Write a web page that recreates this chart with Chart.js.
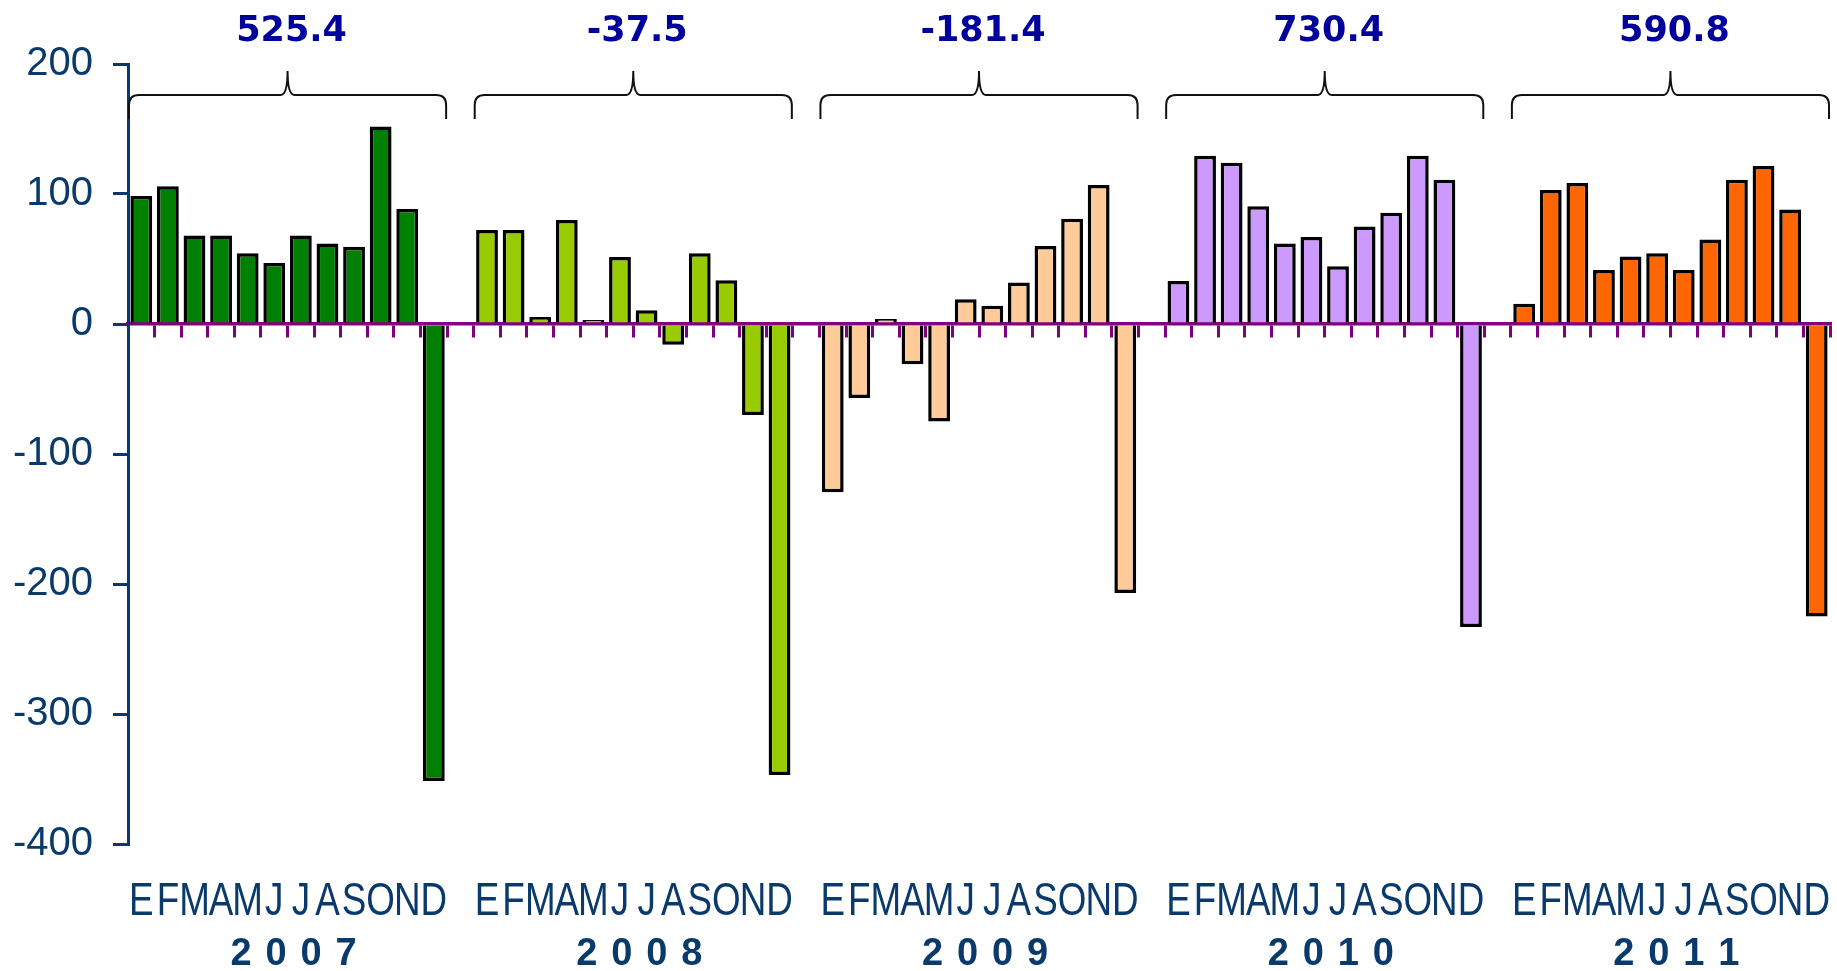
<!DOCTYPE html>
<html>
<head>
<meta charset="utf-8">
<style>
  body { margin: 0; background: #ffffff; }
  #chart { display: block; }
</style>
<script src="https://cdn.jsdelivr.net/npm/chart.js@4"></script>
</head>
<body>
<canvas id="chart" width="1837" height="971"></canvas>
<script>
"use strict";

// months (Spanish initials) and years
var months = ["E", "F", "M", "A", "M", "J", "J", "A", "S", "O", "N", "D"];
var years = ["2007", "2008", "2009", "2010", "2011"];
var totals = ["525.4", "-37.5", "-181.4", "730.4", "590.8"];

// monthly values
var v2007 = [98.5, 106, 68, 68, 54.5, 47, 68, 62, 59.5, 152, 88.5, -351.5];
var v2008 = [72.3, 72.3, 5.4, 80, 3, 51.5, 10.5, -16, 54.4, 33.6, -70, -347];
var v2009 = [-129.5, -57, 3.8, -31, -75, 19, 14, 32, 60, 81, 107, -207];
var v2010 = [33, 129.5, 124, 90.5, 62, 67, 44.5, 75, 85.5, 129.5, 111, -233];
var v2011 = [15.6, 103, 108.5, 41.5, 52, 54.5, 41.5, 65, 111, 121.5, 88, -225];

var yearColors = ["#008000", "#99CC00", "#FFCC99", "#CC99FF", "#FF6600"];
var yTicks = [200, 100, 0, -100, -200, -300, -400];

var NAVY = "#0A3A6B";
var PURPLE = "#800080";

// one category per month, one empty slot between years
var series = [v2007, v2008, v2009, v2010, v2011];
var labels = [];
var values = [];
var colors = [];
series.forEach(function (arr, g) {
  arr.forEach(function (v, i) {
    labels.push(months[i]);
    values.push(v);
    colors.push(yearColors[g]);
  });
  if (g < series.length - 1) {
    labels.push("");
    values.push(null);
    colors.push("#ffffff");
  }
});

function drawBrace(ctx, xl, xr, yEnd, yLine, yTip) {
  var xc = (xl + xr) / 2;
  var r = 10;
  ctx.beginPath();
  ctx.moveTo(xl, yEnd);
  ctx.lineTo(xl, yLine + r);
  ctx.quadraticCurveTo(xl, yLine, xl + r, yLine);
  ctx.lineTo(xc - 7, yLine);
  ctx.quadraticCurveTo(xc, yLine, xc, yTip);
  ctx.quadraticCurveTo(xc, yLine, xc + 7, yLine);
  ctx.lineTo(xr - r, yLine);
  ctx.quadraticCurveTo(xr, yLine, xr, yLine + r);
  ctx.lineTo(xr, yEnd);
  ctx.stroke();
}

var annotations = {
  id: "annotations",
  afterDraw: function (chart) {
    var ctx = chart.ctx;
    var x = chart.scales.x;
    var half = (x.getPixelForValue(1) - x.getPixelForValue(0)) / 2;

    ctx.save();
    years.forEach(function (yr, g) {
      var start = g * 13;
      var xl = x.getPixelForValue(start) - half + 1;
      var xr = x.getPixelForValue(start + 11) + half - 1;
      var xc = (xl + xr) / 2;

      // bracket and yearly total
      ctx.strokeStyle = "#111111";
      ctx.lineWidth = 2;
      drawBrace(ctx, xl, xr, 119, 95, 71);
      ctx.fillStyle = "#00009C";
      ctx.font = "bold 35px 'DejaVu Sans', Verdana, sans-serif";
      ctx.textAlign = "center";
      ctx.textBaseline = "middle";
      ctx.fillText(totals[g], xc + 4, 32);

      // month initials, slightly condensed
      ctx.fillStyle = NAVY;
      ctx.font = "46px 'Liberation Sans', Arial, sans-serif";
      for (var i = 0; i < 12; i++) {
        ctx.save();
        ctx.translate(x.getPixelForValue(start + i), 902);
        ctx.scale(0.8, 1);
        ctx.fillText(months[i], 0, 0);
        ctx.restore();
      }

      // year, spaced out
      ctx.font = "bold 38px 'Liberation Sans', Arial, sans-serif";
      var gap = 35;
      for (var k = 0; k < yr.length; k++) {
        ctx.fillText(yr[k], xc + 6 + (k - (yr.length - 1) / 2) * gap, 955);
      }
    });
    ctx.restore();
  },
};

new Chart(document.getElementById("chart"), {
  type: "bar",
  data: {
    labels: labels,
    datasets: [
      {
        data: values,
        backgroundColor: colors,
        borderColor: "#000000",
        borderWidth: 3.5,
        barPercentage: 0.82,
        categoryPercentage: 1,
      },
    ],
  },
  options: {
    responsive: false,
    animation: false,
    layout: { padding: { left: 0, right: 7, top: 64, bottom: 127 } },
    plugins: {
      legend: { display: false },
      tooltip: { enabled: false },
    },
    scales: {
      x: {
        position: { y: 0 },
        z: 1,
        border: { color: PURPLE, width: 3.5 },
        grid: {
          color: PURPLE,
          lineWidth: 3,
          drawOnChartArea: false,
          drawTicks: true,
          tickLength: 12,
        },
        ticks: { display: false },
      },
      y: {
        min: -400,
        max: 200,
        afterFit: function (scale) {
          scale.width = 128;
        },
        afterBuildTicks: function (scale) {
          scale.ticks = yTicks.map(function (v) {
            return { value: v };
          });
        },
        border: { color: NAVY, width: 3 },
        grid: {
          color: NAVY,
          lineWidth: 3,
          drawOnChartArea: false,
          tickLength: 15,
        },
        ticks: {
          color: NAVY,
          padding: 20,
          font: { family: "'Liberation Sans', Arial, sans-serif", size: 40 },
          callback: function (v) {
            return String(v);
          },
        },
      },
    },
  },
  plugins: [annotations],
});
</script>
</body>
</html>
